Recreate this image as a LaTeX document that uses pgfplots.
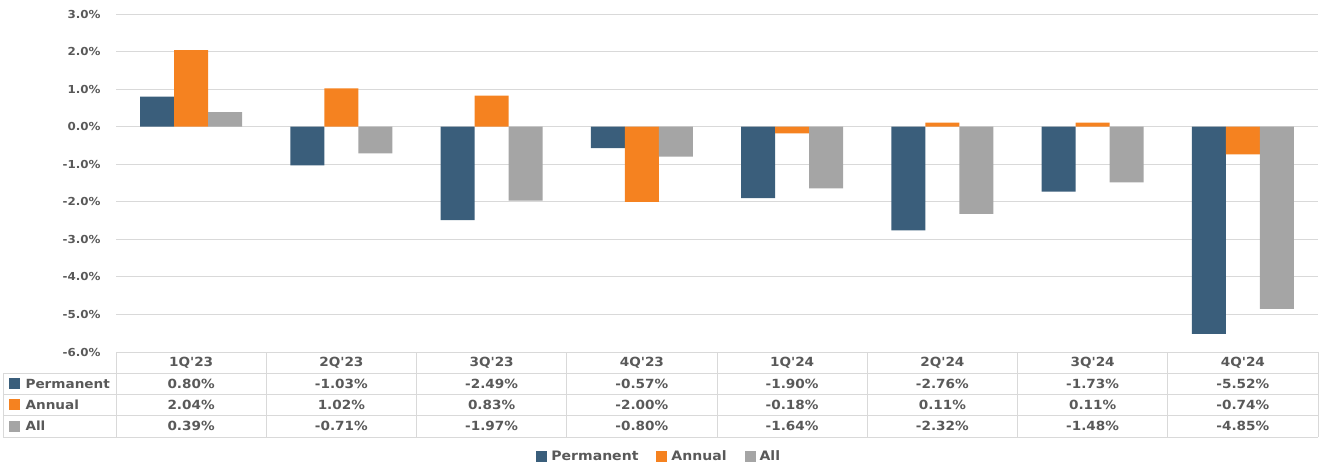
\documentclass[border=0pt]{standalone}
\usepackage{pgfplots}
\pgfplotsset{compat=1.18}
\usepackage{pgfplotstable}
\usepackage{fontspec}
\setmainfont{DejaVu Sans}[FakeStretch=1.08,Ligatures=TeXOff]
\definecolor{cPerm}{HTML}{3A5E7B}
\definecolor{cAnn}{HTML}{F58220}
\definecolor{cAll}{HTML}{A5A5A5}
\definecolor{txt}{HTML}{595959}
\definecolor{grid}{HTML}{D9D9D9}
\pgfplotstableread{
x perm ann all
0 0.80 2.04 0.39
1 -1.03 1.02 -0.71
2 -2.49 0.83 -1.97
3 -0.57 -2.00 -0.80
4 -1.90 -0.18 -1.64
5 -2.76 0.11 -2.32
6 -1.73 0.11 -1.48
7 -5.52 -0.74 -4.85
}\data
\newcommand{\ap}{{\char"27}}
\begin{document}
\begin{tikzpicture}[x=1pt,y=1pt,font=\fontsize{12.6}{14}\selectfont\bfseries,text=txt]
\path (0,0) rectangle (1320,467);
\begin{axis}[
  at={(116pt,115pt)}, anchor=south west,
  scale only axis, width=1202pt, height=338pt,
  xmin=-0.5, xmax=7.5, ymin=-6, ymax=3,
  ytick={-6,-5,...,3},
  xtick=\empty,
  axis line style={draw=none},
  major tick length=0pt,
  ymajorgrids, major grid style={draw=grid, line width=1pt},
  /pgf/number format/assume math mode=true,
  yticklabel={\pgfmathprintnumber[fixed,fixed zerofill,precision=1]{\tick}\%},
  yticklabel style={font=\fontsize{11}{13}\selectfont\bfseries, text=txt, anchor=east, xshift=-12pt},
  ybar=0pt, bar width=34pt,
  legend columns=3,
  legend style={draw=none, at={(0.452,-0.309)}, anchor=center, text=txt,
    font=\fontsize{13}{14}\selectfont\bfseries,
    /tikz/every odd column/.append style={column sep=2pt},
    /tikz/every even column/.append style={column sep=16pt}},
  legend image code/.code={\fill[#1] (0pt,-5.5pt) rectangle (11pt,5.5pt);},
  clip=false,
]
\addplot[fill=cPerm, draw=none] table[x=x,y=perm]{\data};
\addplot[fill=cAnn, draw=none] table[x=x,y=ann]{\data};
\addplot[fill=cAll, draw=none] table[x=x,y=all]{\data};
\legend{Permanent,Annual,All}
\end{axis}
% data table
\begin{scope}[draw=grid, line width=1pt]
\draw (116,115) -- (1318,115);
\foreach \yy in {94,73,51.5,30} \draw (3,\yy) -- (1318,\yy);
\draw (3,94) -- (3,30);
\foreach \k in {0,...,8} \draw ({116+150.25*\k},115) -- ({116+150.25*\k},30);
\end{scope}
\foreach \lab [count=\i from 0] in {1Q\ap23,2Q\ap23,3Q\ap23,4Q\ap23,1Q\ap24,2Q\ap24,3Q\ap24,4Q\ap24}
  \node at ({116+150.25*(\i+0.5)},104.5) {\lab};
\foreach \v [count=\i from 0] in {0.80,-1.03,-2.49,-0.57,-1.90,-2.76,-1.73,-5.52}
  \node at ({116+150.25*(\i+0.5)},83.5) {\v\%};
\foreach \v [count=\i from 0] in {2.04,1.02,0.83,-2.00,-0.18,0.11,0.11,-0.74}
  \node at ({116+150.25*(\i+0.5)},62.3) {\v\%};
\foreach \v [count=\i from 0] in {0.39,-0.71,-1.97,-0.80,-1.64,-2.32,-1.48,-4.85}
  \node at ({116+150.25*(\i+0.5)},41) {\v\%};
\fill[cPerm] (9,78) rectangle (20,89);
\node[anchor=west] at (22,83.5) {Permanent};
\fill[cAnn] (9,56.8) rectangle (20,67.8);
\node[anchor=west] at (22,62.3) {Annual};
\fill[cAll] (9,35.5) rectangle (20,46.5);
\node[anchor=west] at (22,41) {All};
\end{tikzpicture}
\end{document}
